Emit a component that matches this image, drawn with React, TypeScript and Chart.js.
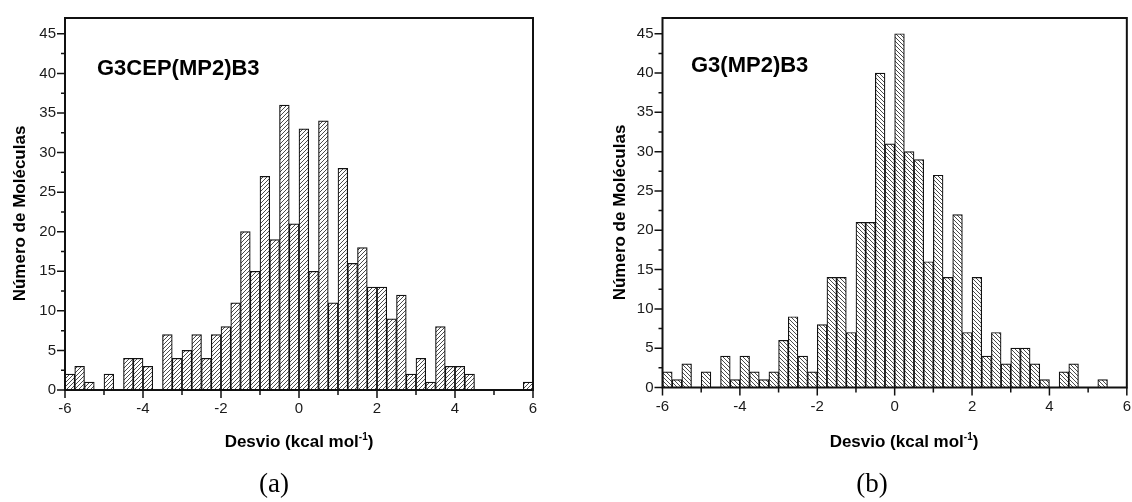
import React, { useEffect, useRef } from 'react';
import { Chart, registerables } from 'chart.js';
Chart.register(...registerables);

// bin centres (bin width 0.25 kcal/mol, from -6 to 6)
const binCenters = [
  -5.875, -5.625, -5.375, -5.125, -4.875, -4.625, -4.375, -4.125,
  -3.875, -3.625, -3.375, -3.125, -2.875, -2.625, -2.375, -2.125,
  -1.875, -1.625, -1.375, -1.125, -0.875, -0.625, -0.375, -0.125,
  0.125, 0.375, 0.625, 0.875, 1.125, 1.375, 1.625, 1.875,
  2.125, 2.375, 2.625, 2.875, 3.125, 3.375, 3.625, 3.875,
  4.125, 4.375, 4.625, 4.875, 5.125, 5.375, 5.625, 5.875,
];

const countsA = [
  2, 3, 1, 0, 2, 0, 4, 4,
  3, 0, 7, 4, 5, 7, 4, 7,
  8, 11, 20, 15, 27, 19, 36, 21,
  33, 15, 34, 11, 28, 16, 18, 13,
  13, 9, 12, 2, 4, 1, 8, 3,
  3, 2, 0, 0, 0, 0, 0, 1,
];

const countsB = [
  2, 1, 3, 0, 2, 0, 4, 1,
  4, 2, 1, 2, 6, 9, 4, 2,
  8, 14, 14, 7, 21, 21, 40, 31,
  45, 30, 29, 16, 27, 14, 22, 7,
  14, 4, 7, 3, 5, 5, 3, 1,
  0, 2, 3, 0, 0, 1, 0, 0,
];

const xMajorTicks = [-6, -4, -2, 0, 2, 4, 6];
const xMinorTicks = [-5, -3, -1, 1, 3, 5];
const yMajorTicks = [0, 5, 10, 15, 20, 25, 30, 35, 40, 45];
const yMinorTicks = [2.5, 7.5, 12.5, 17.5, 22.5, 27.5, 32.5, 37.5, 42.5];

const labelA = 'G3CEP(MP2)B3';
const labelB = 'G3(MP2)B3';
const yTitle = 'Número de Moléculas';
const xTitleMain = 'Desvio (kcal mol';
const xTitleSup = '-1';
const xTitleEnd = ')';

const SANS = '"Liberation Sans", Arial, Helvetica, sans-serif';
const SERIF = '"Liberation Serif", "DejaVu Serif", serif';

function makeHatch(dir: 'fwd' | 'back', size: number) {
  const c = document.createElement('canvas');
  c.width = size;
  c.height = size;
  const g = c.getContext('2d')!;
  g.fillStyle = '#ffffff';
  g.fillRect(0, 0, size, size);
  g.strokeStyle = '#2a2a2a';
  g.lineWidth = 0.85;
  g.beginPath();
  for (let k = -1; k <= 1; k++) {
    if (dir === 'fwd') {
      g.moveTo(k * size, size);
      g.lineTo(k * size + size, 0);
    } else {
      g.moveTo(k * size, 0);
      g.lineTo(k * size + size, size);
    }
  }
  g.stroke();
  return g.createPattern(c, 'repeat')!;
}

const decoPlugin = {
  id: 'deco',
  afterDraw(chart: any, _args: any, opts: any) {
    const ctx = chart.ctx as CanvasRenderingContext2D;
    const { left, right, top, bottom } = chart.chartArea;
    const xs = chart.scales.x;
    const ys = chart.scales.y;
    ctx.save();
    // box
    ctx.strokeStyle = '#111';
    ctx.lineWidth = 2;
    ctx.strokeRect(left, top, right - left, bottom - top);
    // ticks
    ctx.lineWidth = 1.5;
    ctx.beginPath();
    yMajorTicks.forEach((v) => {
      const p = ys.getPixelForValue(v);
      ctx.moveTo(left - 8, p);
      ctx.lineTo(left, p);
    });
    yMinorTicks.forEach((v) => {
      const p = ys.getPixelForValue(v);
      ctx.moveTo(left - 4, p);
      ctx.lineTo(left, p);
    });
    xMajorTicks.forEach((v) => {
      const p = xs.getPixelForValue(v);
      ctx.moveTo(p, bottom);
      ctx.lineTo(p, bottom + 8);
    });
    xMinorTicks.forEach((v) => {
      const p = xs.getPixelForValue(v);
      ctx.moveTo(p, bottom);
      ctx.lineTo(p, bottom + 5);
    });
    ctx.stroke();

    ctx.fillStyle = '#000';
    // inset label
    ctx.font = `bold 22px ${SANS}`;
    ctx.textAlign = 'left';
    ctx.textBaseline = 'alphabetic';
    ctx.fillText(opts.label, opts.labelX, opts.labelY);

    // y title
    ctx.save();
    ctx.translate(opts.yTitleX, opts.yTitleY);
    ctx.rotate(-Math.PI / 2);
    ctx.font = `bold 17px ${SANS}`;
    ctx.textAlign = 'center';
    ctx.textBaseline = 'alphabetic';
    ctx.fillText(yTitle, 0, 0);
    ctx.restore();

    // x title with superscript
    ctx.textAlign = 'left';
    ctx.font = `bold 17px ${SANS}`;
    const w1 = ctx.measureText(xTitleMain).width;
    const w3 = ctx.measureText(xTitleEnd).width;
    ctx.font = `bold 10px ${SANS}`;
    const w2 = ctx.measureText(xTitleSup).width;
    let x0 = opts.xTitleX - (w1 + w2 + w3) / 2;
    const by = opts.xTitleY;
    ctx.font = `bold 17px ${SANS}`;
    ctx.fillText(xTitleMain, x0, by);
    x0 += w1;
    ctx.font = `bold 10px ${SANS}`;
    ctx.fillText(xTitleSup, x0, by - 7);
    x0 += w2;
    ctx.font = `bold 17px ${SANS}`;
    ctx.fillText(xTitleEnd, x0, by);

    // caption
    ctx.font = `27px ${SERIF}`;
    ctx.textAlign = 'center';
    ctx.fillText(opts.caption, opts.captionX, opts.captionY);
    ctx.restore();
  },
};

function Histogram(props: {
  counts: number[];
  hatch: 'fwd' | 'back';
  width: number;
  height: number;
  area: { left: number; right: number; top: number; bottom: number };
  deco: any;
}) {
  const ref = useRef<HTMLCanvasElement>(null);
  useEffect(() => {
    const canvas = ref.current!;
    const { width, height, area } = props;
    const pattern = makeHatch(props.hatch, 4);
    const chart = new Chart(canvas, {
      type: 'bar',
      data: {
        datasets: [
          {
            data: binCenters.map((x, i) => ({ x, y: props.counts[i] })),
            backgroundColor: pattern as any,
            borderColor: '#111',
            borderWidth: 1.2,
            borderSkipped: 'start',
            barPercentage: 1,
            categoryPercentage: 1,
          },
        ],
      },
      options: {
        responsive: false,
        animation: false,
        devicePixelRatio: 1,
        layout: {
          padding: { left: 0, top: area.top, right: width - area.right, bottom: 0 },
        },
        plugins: {
          legend: { display: false },
          tooltip: { enabled: false },
          deco: props.deco,
        } as any,
        scales: {
          x: {
            type: 'linear',
            min: -6,
            max: 6,
            offset: false,
            grid: { display: false, drawTicks: false },
            border: { display: false },
            ticks: {
              stepSize: 2,
              padding: 10,
              color: '#1a1a1a',
              font: { family: SANS, size: 15 },
              maxRotation: 0,
              autoSkip: false,
              callback: (v: any) => String(v),
            },
            afterFit: (s: any) => {
              s.height = height - area.bottom;
            },
          },
          y: {
            type: 'linear',
            min: 0,
            max: 47,
            grid: { display: false, drawTicks: false },
            border: { display: false },
            ticks: {
              stepSize: 5,
              includeBounds: false,
              padding: 9,
              color: '#1a1a1a',
              font: { family: SANS, size: 15 },
              callback: (v: any) => String(v),
            },
            afterFit: (s: any) => {
              s.width = area.left;
            },
          },
        },
      },
      plugins: [decoPlugin],
    } as any);
    return () => chart.destroy();
  }, []);
  return (
    <canvas
      ref={ref}
      width={props.width}
      height={props.height}
      style={{ width: props.width, height: props.height, display: 'block' }}
    />
  );
}

export default function App() {
  return (
    <div
      style={{
        position: 'fixed',
        left: 0,
        top: 0,
        width: 1132,
        height: 502,
        overflow: 'hidden',
        background: '#fff',
      }}
    >
      <div style={{ position: 'absolute', left: 0, top: 0 }}>
        <Histogram
          counts={countsA}
          hatch="fwd"
          width={566}
          height={502}
          area={{ left: 65, right: 533, top: 13, bottom: 390 }}
          deco={{
            label: labelA,
            labelX: 97,
            labelY: 74.5,
            yTitleX: 25,
            yTitleY: 213.5,
            xTitleX: 299,
            xTitleY: 447,
            caption: '(a)',
            captionX: 274,
            captionY: 492,
          }}
        />
      </div>
      <div style={{ position: 'absolute', left: 566, top: 0 }}>
        <Histogram
          counts={countsB}
          hatch="back"
          width={575}
          height={502}
          area={{ left: 96.5, right: 563.5, top: 11, bottom: 387.5 }}
          deco={{
            label: labelB,
            labelX: 125,
            labelY: 71.6,
            yTitleX: 59,
            yTitleY: 212.5,
            xTitleX: 338,
            xTitleY: 447,
            caption: '(b)',
            captionX: 306,
            captionY: 492,
          }}
        />
      </div>
    </div>
  );
}
